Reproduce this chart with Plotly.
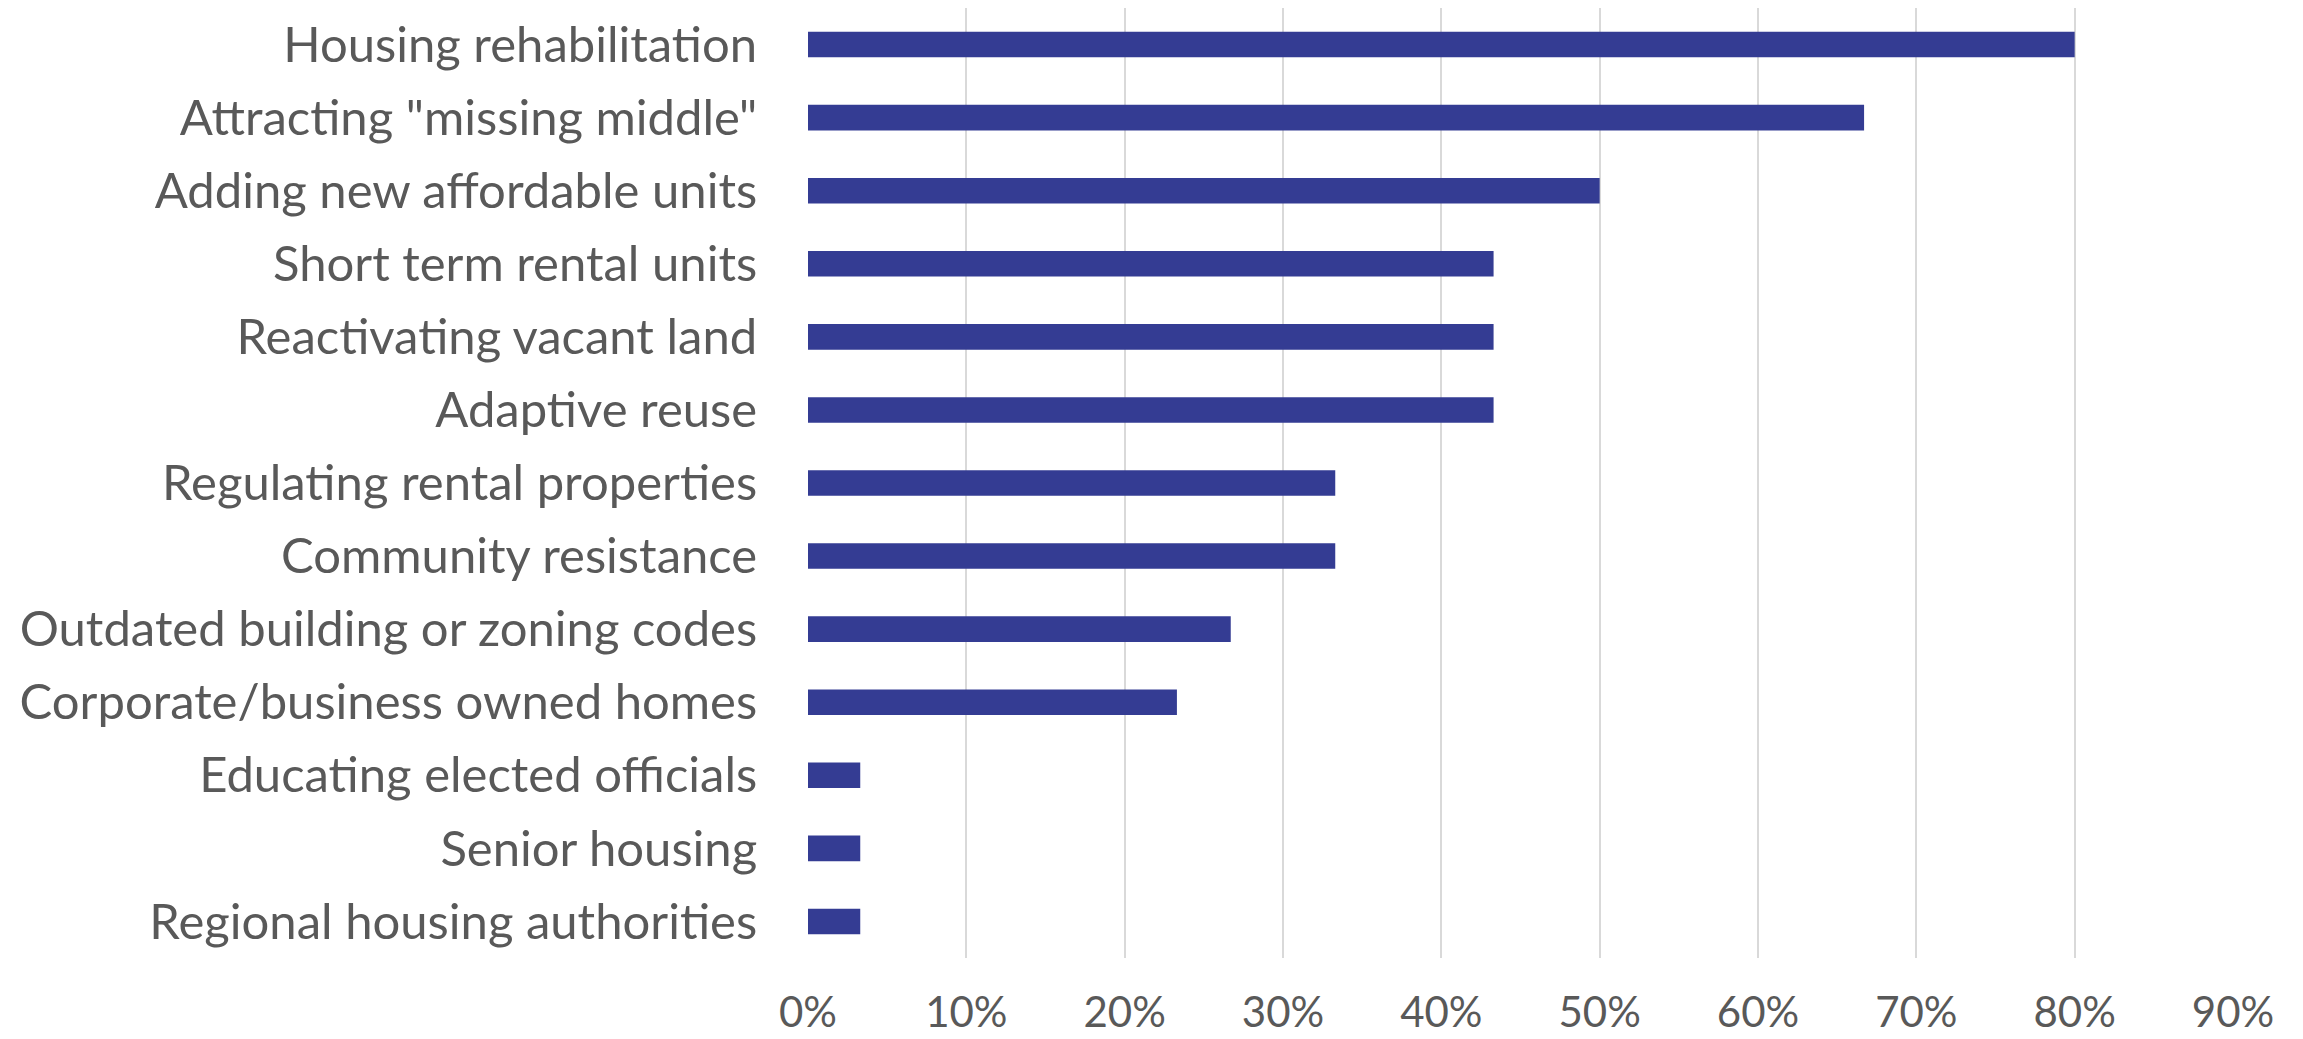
import plotly.graph_objects as go

categories = [
    "Housing rehabilitation",
    "Attracting \"missing middle\"",
    "Adding new affordable units",
    "Short term rental units",
    "Reactivating vacant land",
    "Adaptive reuse",
    "Regulating rental properties",
    "Community resistance",
    "Outdated building or zoning codes",
    "Corporate/business owned homes",
    "Educating elected officials",
    "Senior housing",
    "Regional housing authorities",
]
values = [0.800, 0.667, 0.500, 0.433, 0.433, 0.433, 0.333, 0.333, 0.267, 0.233, 0.033, 0.033, 0.033]
x_ticks = [0, 0.1, 0.2, 0.3, 0.4, 0.5, 0.6, 0.7, 0.8, 0.9]
x_tick_labels = ["0%", "10%", "20%", "30%", "40%", "50%", "60%", "70%", "80%", "90%"]

fig = go.Figure(
    go.Bar(
        x=values,
        y=categories,
        orientation="h",
        marker=dict(color="#343C93", line=dict(width=0)),
        hoverinfo="x+y",
    )
)

family = "Lato, Carlito, Calibri, sans-serif"
y_font = dict(family=family, size=49, color="#595959")
x_font = dict(family=family, size=42, color="#595959")

# page body has a default 8px margin, so the figure is sized to fit the window
fig.update_layout(
    width=2295,
    height=1031,
    margin=dict(l=800, r=70, t=0, b=81),
    paper_bgcolor="white",
    plot_bgcolor="white",
    bargap=0.65,
    showlegend=False,
    font=y_font,
)
fig.update_xaxes(
    range=[0, 0.9],
    tickvals=x_ticks,
    ticktext=x_tick_labels,
    showgrid=True,
    gridcolor="#D9D9D9",
    gridwidth=2,
    zeroline=False,
    showline=False,
    ticks="outside",
    ticklen=18,
    tickcolor="rgba(0,0,0,0)",
    tickfont=x_font,
    automargin=False,
)
fig.update_yaxes(
    autorange="reversed",
    showgrid=False,
    zeroline=False,
    showline=False,
    ticks="outside",
    ticklen=40,
    tickcolor="rgba(0,0,0,0)",
    tickfont=y_font,
    automargin=False,
)

fig.write_html("out.html")
